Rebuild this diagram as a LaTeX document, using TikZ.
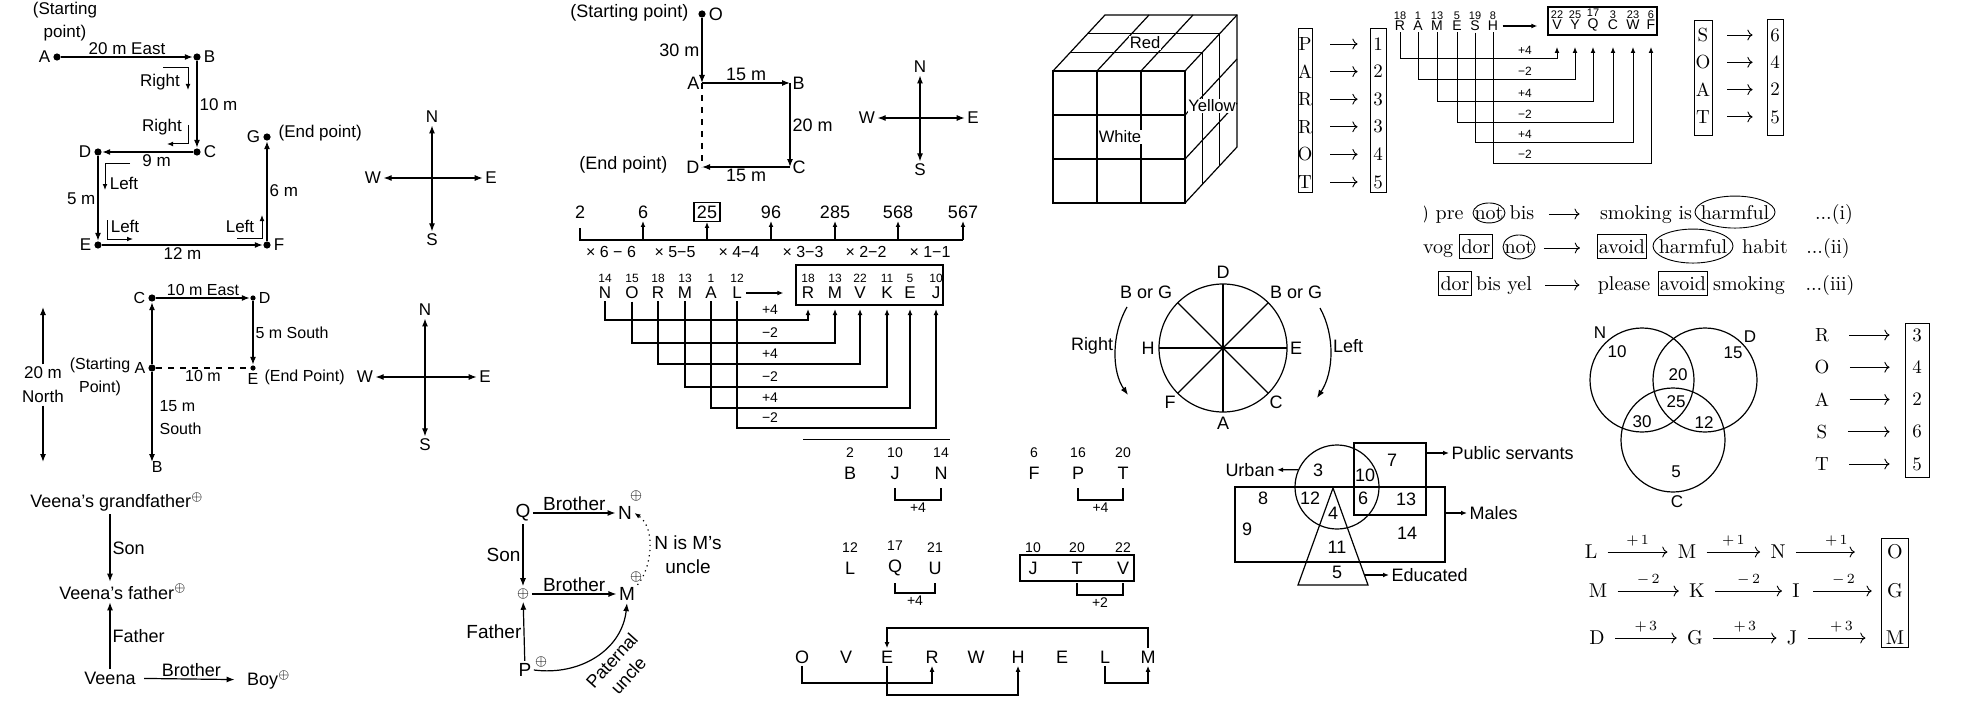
\documentclass[tikz,border=0pt]{standalone}
\usepackage{fontspec}
\setsansfont{Liberation Sans}
\usepackage{tikz}
\usetikzlibrary{arrows.meta}

\newcommand{\sfs}[2]{\sffamily\fontsize{#1}{#2}\selectfont}
\newcommand{\rms}[2]{\rmfamily\fontsize{#1}{#2}\selectfont}

\tikzset{
  arr/.style={-{Latex[length=4pt,width=3pt]}},
  arrs/.style={-{Latex[length=3pt,width=2.4pt]}},
  arrb/.style={{Latex[length=4pt,width=3pt]}-{Latex[length=4pt,width=3pt]}},
  dot/.style={circle, fill, inner sep=0pt, minimum size=3.6pt},
  tinydot/.style={circle, fill, inner sep=0pt, minimum size=2.6pt},
  numl/.style={font=\sfs{6}{7}, inner sep=0.5pt},
  boxw/.style={draw, inner xsep=0.8pt, inner ysep=2.5pt, text height=7pt, text depth=0pt},
  serifpanel/.style={every node/.append style={font=\rms{9.5}{11}}, line width=0.45pt},
}

\begin{document}
\begin{tikzpicture}[x=0.5pt, y=-0.5pt, line width=0.6pt, every node/.style={font=\sfs{8.5}{10}, inner sep=1pt}]
\useasboundingbox (0,0) rectangle (1975,706);
\fill[white] (0,0) rectangle (1975,706);

% walk A to G
\node[dot, label=left:A] (pa) at (57,57) {};
\node[dot, label=right:B] (pb) at (197,57) {};
\node[dot, label=right:C] (pc) at (197,152) {};
\node[dot, label=left:D] (pd) at (98,152) {};
\node[dot, label=left:E] (pe) at (98,245) {};
\node[dot, label=right:F] (pf) at (267,245) {};
\node[dot, label=left:G] (pg) at (267,137) {};
\draw[arr] (pa) -- node[above] {20 m East} (pb);
\draw[arr] (pb) -- node[right] {10 m} (pc);
\draw[arr] (pc) -- node[below, pos=0.4] {9 m} (pd);
\draw[arr] (pd) -- node[left] {5 m} (pe);
\draw[arr] (pe) -- node[below] {12 m} (pf);
\draw[arr] (pf) -- node[right] {6 m} (pg);
\node[align=center, font=\sfs{8.5}{11.5}] (pst) at (65,22) {(Starting\\point)};
\node[anchor=west] (pen) at (276,133) {(End point)};
\node (prt1) at (160,82) {Right};
\node (prt2) at (162,127) {Right};
\node (plf1) at (124,183) {Left};
\node (plf2) at (125,226) {Left};
\node (plf3) at (240,226) {Left};
\draw[arrs, line width=0.5pt] (163,68) -- (188,68) -- (188,90);
\draw[arrs, line width=0.5pt] (188,125) -- (188,144) -- (167,144);
\draw[arrs, line width=0.5pt] (130,163) -- (105,163) -- (105,190);
\draw[arrs, line width=0.5pt] (107,220) -- (107,239) -- (133,239);
\draw[arrs, line width=0.5pt] (237,238) -- (262,238) -- (262,215);

% compasses
\foreach \cx/\cy/\rx/\ry/\k in {432/178/47/50/a, 425/377/48/56/b, 920/118/41/40/c} {
  \node (N\k) at (\cx,\cy-\ry-11) {N};
  \node (S\k) at (\cx,\cy+\ry+12) {S};
  \node (W\k) at (\cx-\rx-12,\cy) {W};
  \node (E\k) at (\cx+\rx+12,\cy) {E};
  \draw[arrb] (N\k) -- (S\k);
  \draw[arrb] (W\k) -- (E\k);
}

% walk C D A E B
\begin{scope}[every node/.append style={font=\sfs{8}{10}}]
\node[dot, label=left:C] (qc) at (152,298) {};
\node[tinydot, label=right:D] (qd) at (253,298) {};
\node[dot, label=left:A] (qa) at (152,368) {};
\node[tinydot, label=below:E] (qe) at (253,368) {};
\coordinate[label={[label distance=-2pt]below right:B}] (qb) at (152,462);
\draw[arr] (qc) -- node[above] {10 m East} (qd);
\draw[arr] (qd) -- node[right] {5 m South} (qe);
\draw[dashed] (qa) -- node[below] {10 m} (qe);
\draw[arr] (qa) -- (qc);
\draw[arr] (qa) -- (qb);
\node[align=left, anchor=west, font=\sfs{8}{11.5}] (q15) at (157,418) {15 m\\South};
\node[align=center, font=\sfs{8}{11.5}] (qst) at (100,377) {(Starting\\Point)};
\node[anchor=west] (qen) at (262,377) {(End Point)};
\node[align=center, font=\sfs{8.5}{12}] (qno) at (43,385) {20 m\\North};
\coordinate (qnt) at (43,307);
\coordinate (qnb) at (43,462);
\draw[arr] (qno) -- (qnt);
\draw[arr] (qno) -- (qnb);
\end{scope}

% Veena
\begin{scope}[every node/.append style={font=\sfs{9}{11}}]
\node (vg) at (117,502) {Veena’s grandfather$^{\oplus}$};
\node (vf) at (123,592) {Veena’s father$^{\oplus}$};
\node (ve) at (110,678) {Veena};
\node (vb) at (269,680) {Boy$^{\oplus}$};
\draw[arr] (vg.south -| ve) -- node[right] {Son} (vf.north -| ve);
\draw[arr] (ve) -- node[right] {Father} (vf.south -| ve);
\draw[arr, shorten <=3pt, shorten >=5pt] (ve) -- node[above] {Brother} (vb);
\end{scope}

% walk O A B C D
\begin{scope}[every node/.append style={font=\sfs{9}{11}}]
\node[dot, label=right:O] (ro) at (702,14) {};
\coordinate[label=left:A] (ra) at (702,83);
\coordinate[label=right:B] (rb) at (790,83);
\coordinate[label=right:C] (rc) at (790,167);
\coordinate[label=left:D] (rd) at (702,167);
\draw[arr] (ro) -- node[left] {30 m} (ra);
\draw[arr] (ra) -- node[above] {15 m} (rb);
\draw[arr] (rb) -- node[right] {20 m} (rc);
\draw[arr] (rc) -- node[below] {15 m} (rd);
\draw[dashed] (ra) -- (rd);
\node[anchor=east] (rst) at (691,13) {(Starting point)};
\node[anchor=east] (ren) at (670,165) {(End point)};
\end{scope}

% number series
\begin{scope}[every node/.append style={font=\sfs{9}{10}}]
\foreach \v/\x/\i in {2/580/1, 6/643/2, 96/771/4, 285/835/5, 568/898/6, 567/963/7}
  \node (sr\i) at (\x,212) {\v};
\node[draw, inner sep=1.5pt] (sr3) at (707,212) {25};
\draw (sr1 |- 0,228) -- (sr1 |- 0,240) -- (sr7 |- 0,240);
\foreach \i in {2,...,7} \draw[arrs] (sr\i |- 0,240) -- (sr\i);
\foreach \t/\x [count=\i] in {× 6 − 6/611, × 5−5/675, × 4−4/739, × 3−3/803, × 2−2/866, × 1−1/930}
  \node[font=\sfs{8}{9}] (op\i) at (\x,252) {\t};
\end{scope}

% NORMAL
\foreach \l/\n/\x [count=\i] in {N/14/605, O/15/632, R/18/658, M/13/685, A/1/711, L/12/737}
  \node[label={[numl]above:\n}] (nr\i) at (\x,293) {\l};
\foreach \l/\n/\x [count=\i] in {R/18/808, M/13/835, V/22/860, K/11/887, E/5/910, J/10/936}
  \node[label={[numl]above:\n}] (nt\i) at (\x,293) {\l};
\node[draw, minimum width=73.5pt, minimum height=20pt, inner sep=0pt] (nbx) at (869.5,285) {};
\draw[arrs, shorten <=1pt, shorten >=6pt] (nr6) -- (nbx.west |- nr6);
\foreach \y/\t [count=\i] in {320/+4, 343/−2, 364/+4, 387/−2, 408/+4, 428/−2} {
  \draw[arrs] (nr\i) -- (nr\i |- 0,\y) -| (nt\i |- 0,309);
  \node[font=\sfs{7}{8}] (nl\i) at (770,\y-10) {\t};
}
\draw[line width=0.4pt] (803,439) -- (950,439);

% letter groups
\begin{scope}[every node/.append style={font=\sfs{9}{10}}]
\foreach \l/\n/\x/\y/\k in {B/2/850/473/a, J/10/895/473/b, N/14/941/473/c, F/6/1034/473/d, P/16/1078/473/e, T/20/1123/473/f, L/12/850/568/g, Q/17/895/568/h, U/21/935/568/i, J/10/1033/568/j, T/20/1077/568/k, V/22/1123/568/l}
  \node[label={[numl, font=\sfs{7}{8}, label distance=2.5pt]above:\n}] (g\k) at (\x,\y) {\l};
\node[draw, minimum width=57pt, minimum height=13pt, inner sep=0pt] (gbx) at (1077,568) {};
\foreach \a/\b in {b/c, e/f}
  \draw (g\a |- 0,488) -- (g\a |- 0,500) -| node[pos=0.25, below, font=\sfs{7}{8}] {+4} (g\b |- 0,488);
\draw (gh |- 0,583) -- (gh |- 0,593) -| node[pos=0.25, below, font=\sfs{7}{8}] {+4} (gi |- 0,583);
\draw (gk |- 0,583) -- (gk |- 0,595) -| node[pos=0.25, below, font=\sfs{7}{8}] {+2} (gl |- 0,583);
\end{scope}

% OVERWHELM
\begin{scope}[every node/.append style={font=\sfs{9}{10}}]
\foreach \l/\x [count=\i] in {O/802, V/846, E/887, R/932, W/976, H/1018, E/1062, L/1105, M/1148}
  \node (ow\i) at (\x,657) {\l};
\draw[arrs] (ow9) -- (ow9 |- 0,628) -| (ow3);
\draw[arrs] (ow1) -- (ow1 |- 0,683) -| (ow4);
\draw[arrs] (ow3) -- (ow3 |- 0,695) -| (ow6);
\draw[arrs] (ow8) -- (ow8 |- 0,683) -| (ow9);
\end{scope}

% Q N M P
\begin{scope}[every node/.append style={font=\sfs{9.5}{11}}]
\node (fq) at (523,513) {Q};
\node (fn) at (625,513) {N};
\node (fo) at (523,594) {$\scriptstyle\oplus$};
\node (fm) at (627,594) {M};
\node (fp) at (525,670) {P};
\node (fnp) at (636,496) {$\scriptstyle\oplus$};
\node (fmp) at (636,577) {$\scriptstyle\oplus$};
\node (fpp) at (541,662) {$\scriptstyle\oplus$};
\draw[arr] (fq) -- node[above] {Brother} (fn);
\draw[arr] (fq) -- node[left] {Son} (fo);
\draw[arr] (fo) -- node[above] {Brother} (fm);
\draw[arr] (fp) -- node[left] {Father} (fo);
\draw[arrs, dotted] (fm.north east) .. controls (652,568) and (656,528) .. (fn.east);
\draw[arr] (fp.east) .. controls (580,676) and (622,650) .. (fm.south);
\node[align=center, font=\sfs{9.5}{12}] (fnote) at (688,555) {N is M’s\\uncle};
\node[align=center, rotate=48, font=\sfs{9}{11}] (fpat) at (620,668) {Paternal\\uncle};
\end{scope}

% cube
\draw (1053,71) rectangle (1185,203);
\foreach \i in {1,2} {
  \draw (1053+44*\i,71) -- (1053+44*\i,203);
  \draw (1053,71+44*\i) -- (1185,71+44*\i);
  \draw (1053+44*\i,71) -- ++(52,-56);
  \draw (1185,71+44*\i) -- ++(52,-56);
  \draw (1053+17.33*\i,71-18.67*\i) -- ++(132,0);
  \draw (1185+17.33*\i,71-18.67*\i) -- ++(0,132);
}
\draw (1053,71) -- ++(52,-56) -- ++(132,0) -- ++(0,132) -- (1185,203);
\draw (1185,71) -- ++(52,-56);
\node[fill=white, inner sep=0.5pt, font=\sfs{8.3}{9}] (cred) at (1145,43) {Red};
\node[fill=white, inner sep=0.5pt, font=\sfs{8.3}{9}] (cwht) at (1120,137) {White};
\node[fill=white, inner sep=0.3pt, font=\sfs{8.3}{9}] (cyel) at (1212,106) {Yellow};

% PARROT
\begin{scope}[serifpanel]
\node[draw, minimum width=7pt, minimum height=82pt, inner sep=0pt] (pbx) at (1305,110) {};
\node[draw, minimum width=8pt, minimum height=82pt, inner sep=0pt] (pnx) at (1378,110) {};
\foreach \l/\n [count=\i] in {P/1, A/2, R/3, R/3, O/4, T/5} {
  \pgfmathsetmacro\yy{16.4+27.6*\i}
  \node (pl\i) at (1305,\yy) {\l};
  \node (pn\i) at (1378,\yy) {\n};
  \draw[->, shorten <=9pt, shorten >=6pt] (pbx.east |- pl\i) -- (pnx.west |- pl\i);
}
\end{scope}

% RAMESH
\begin{scope}[every node/.append style={font=\sfs{7}{8}, inner sep=0.5pt}]
\foreach \l/\n/\x [count=\i] in {R/18/1400, A/1/1418, M/13/1437, E/5/1457, S/19/1475, H/8/1493}
  \node[label={[font=\sfs{5.5}{6}, inner sep=0.3pt, label distance=-0.5pt]above:\n}] (ms\i) at (\x,26) {\l};
\foreach \l/\n/\x [count=\i] in {V/22/1557, Y/25/1575, Q/17/1593, C/3/1613, W/23/1633, F/6/1651}
  \node[label={[font=\sfs{5.5}{6}, inner sep=0.3pt, label distance=-0.5pt]above:\n}] (mt\i) at (\x,25) {\l};
\node[draw, minimum width=54.5pt, minimum height=14pt, inner sep=0pt] (mbx) at (1602.5,21) {};
\draw[arrs, shorten <=1.5pt, shorten >=5pt] (ms6) -- (mbx.west |- ms6);
\foreach \y/\t [count=\i] in {59/+4, 80/−2, 102/+4, 123/−2, 143/+4, 163/−2} {
  \draw[arrs, line width=0.5pt] (ms\i) -- (ms\i |- 0,\y) -| (mt\i |- 0,47);
  \node[font=\sfs{6}{7}] (ml\i) at (1525,\y-9) {\t};
}
\end{scope}

% SOAT
\begin{scope}[serifpanel]
\node[draw, minimum width=9pt, minimum height=57.5pt, inner sep=0pt] (sbx) at (1703,77.5) {};
\node[draw, minimum width=8pt, minimum height=58pt, inner sep=0pt] (snx) at (1775,77) {};
\foreach \l/\n [count=\i] in {S/6, O/4, A/2, T/5} {
  \pgfmathsetmacro\yy{7.7+27.3*\i}
  \node (sl\i) at (1703,\yy) {\l};
  \node (sn\i) at (1775,\yy) {\n};
  \draw[->, shorten <=7.5pt, shorten >=7pt] (sbx.east |- sl\i) -- (snx.west |- sl\i);
}
\end{scope}

% coded sentences
\begin{scope}[serifpanel, every node/.append style={font=\rms{10}{12}}]
\begin{scope}
\clip (1424,195) rectangle (1975,300);
\node[anchor=base east] (w1a) at (1466,219) {\textit{z}) pre};
\end{scope}
\node[anchor=base] (w1b) at (1489,219) {not};
\node[anchor=base] (w1c) at (1522,219) {bis};
\node[anchor=base] (w1d) at (1646,219) {smoking is};
\node[anchor=base] (w1e) at (1735,219) {harmful};
\node[anchor=base] (w1f) at (1834,219) {...(i)};
\draw (w1b) ellipse (16 and 10);
\draw (w1e) ellipse (40 and 16);
\draw[->, shorten <=6pt, shorten >=9pt] ([yshift=2.5pt]w1c.base east) -- ([yshift=2.5pt]w1d.base west);
\node[anchor=base] (w2a) at (1438,253) {vog};
\node[anchor=base, boxw] (w2b) at (1476,253) {dor};
\node[anchor=base] (w2c) at (1519,253) {not};
\node[anchor=base, boxw] (w2d) at (1622,253) {avoid};
\node[anchor=base] (w2e) at (1693,253) {harmful};
\node[anchor=base] (w2f) at (1765,253) {habit};
\node[anchor=base] (w2g) at (1828,253) {...(ii)};
\draw (w2c) ellipse (16 and 12);
\draw (w2e) ellipse (40 and 17);
\draw[->, shorten <=4pt, shorten >=8.5pt] ([yshift=2.5pt]w2c.base east) -- ([yshift=2.5pt]w2d.base west);
\node[anchor=base, boxw] (w3a) at (1455,290) {dor};
\node[anchor=base] (w3b) at (1504,290) {bis yel};
\node[anchor=base] (w3c) at (1624,290) {please};
\node[anchor=base, boxw] (w3d) at (1683,290) {avoid};
\node[anchor=base] (w3e) at (1749,290) {smoking};
\node[anchor=base] (w3f) at (1830,290) {...(iii)};
\draw[->, shorten <=5.5pt, shorten >=8pt] ([yshift=2.5pt]w3b.base east) -- ([yshift=2.5pt]w3c.base west);
\end{scope}

% seating circle
\begin{scope}[every node/.append style={font=\sfs{9}{10}}]
\draw (1223,348) circle (64);
\foreach \a in {0,45,90,135}
  \draw ([shift={(1223,348)}]\a:64) -- ([shift={(1223,348)}]\a+180:64);
\node (sD) at (1223,272) {D};
\node (sA) at (1223,423) {A};
\node (sH) at (1148,348) {H};
\node (sE) at (1296,348) {E};
\node (sB1) at (1146,292) {B or G};
\node (sB2) at (1296,292) {B or G};
\node (sF) at (1170,402) {F};
\node (sC) at (1276,402) {C};
\node (sRt) at (1092,346) {Right};
\node (sLt) at (1348,346) {Left};
\draw[arr] (1127,307) .. controls (1111,335) and (1112,372) .. (1128,395);
\draw[arr] (1320,308) .. controls (1335,335) and (1334,372) .. (1317,398);
\end{scope}

% urban venn
\begin{scope}[every node/.append style={font=\sfs{9}{10}}]
\node[circle, draw, minimum size=42pt, inner sep=0pt] (urb) at (1337,487) {};
\node[draw, minimum width=36pt, minimum height=36pt, inner sep=0pt] (pub) at (1390,479) {};
\node[draw, minimum width=105pt, minimum height=37.5pt, inner sep=0pt] (mal) at (1340,524.5) {};
\coordinate (tA) at (1333,488);
\coordinate (tL) at (1298,585);
\coordinate (tR) at (1368,585);
\draw (tA) -- (tL) -- (tR) -- cycle;
\foreach \v/\x/\y [count=\i] in {3/1318/470, 10/1365/475, 7/1392/460, 8/1263/498, 12/1310/498, 6/1363/498, 13/1406/499, 4/1333/513, 9/1247/529, 14/1407/533, 11/1337/547, 5/1337/572}
  \node (uv\i) at (\x,\y) {\v};
\node (uUrb) at (1250,470) {Urban};
\node[anchor=west] (uPub) at (1449,453) {Public servants};
\node[anchor=west] (uMal) at (1467,513) {Males};
\node[anchor=west] (uEdu) at (1389,575) {Educated};
\coordinate (tE) at (1365,575);
\draw[arrs] (urb.156) -- (uUrb);
\draw[arrs] (pub.east |- uPub) -- (uPub);
\draw[arrs] (mal.east |- uMal) -- (uMal);
\draw[arrs] (tE) -- (uEdu);
\end{scope}

% N D C venn
\node[circle, draw, minimum size=52pt, inner sep=0pt] (vN) at (1642,380) {};
\node[circle, draw, minimum size=52pt, inner sep=0pt] (vD) at (1705,380) {};
\node[circle, draw, minimum size=52pt, inner sep=0pt] (vC) at (1673,440) {};
\node (vNl) at (1600,333) {N};
\node (vDl) at (1750,337) {D};
\node (vCl) at (1677,502) {C};
\foreach \v/\x/\y [count=\i] in {10/1617/352, 15/1733/353, 20/1678/375, 25/1676/402, 30/1642/422, 12/1704/423, 5/1676/472}
  \node (vv\i) at (\x,\y) {\v};

% ROAST
\begin{scope}[serifpanel]
\node[draw, minimum width=12pt, minimum height=77pt, inner sep=0pt] (obx) at (1917,400) {};
\foreach \l/\n [count=\i] in {R/3, O/4, A/2, S/6, T/5} {
  \pgfmathsetmacro\yy{302.75+32.25*\i}
  \node (ol\i) at (1822,\yy) {\l};
  \node (on\i) at (1917,\yy) {\n};
  \draw[->, shorten <=9pt, shorten >=7.5pt] (ol\i.east) -- (obx.west |- ol\i);
}
\end{scope}

% letter steps
\begin{scope}[serifpanel, every node/.append style={font=\rms{10}{12}}]
\node[draw, minimum width=13.5pt, minimum height=54.5pt, inner sep=0pt] (xbx) at (1894.5,592.5) {};
\foreach \l/\x/\y [count=\i] in {L/1591/552, M/1687/552, N/1778/552, O/1895/552, M/1598/591, K/1697/591, I/1796/591, G/1895/591, D/1597/638, G/1695/638, J/1792/638, M/1895/638}
  \node (k\i) at (\x,\y) {\l};
\foreach \a/\b/\t/\s/\g in {1/2/+\,1/4/4, 2/3/+\,1/4/4, 3/4/+\,1/4/15, 5/6/$-$\,2/4/4, 6/7/$-$\,2/4/4, 7/8/$-$\,2/5.5/6.5, 9/10/+\,3/4/4, 10/11/+\,3/4/4, 11/12/+\,3/4/9}
  \draw[->, shorten <=\s pt, shorten >=\g pt] (k\a) -- node[above=1.5pt, font=\rms{7}{8}] {\t} (k\b);
\end{scope}
\end{tikzpicture}
\end{document}
